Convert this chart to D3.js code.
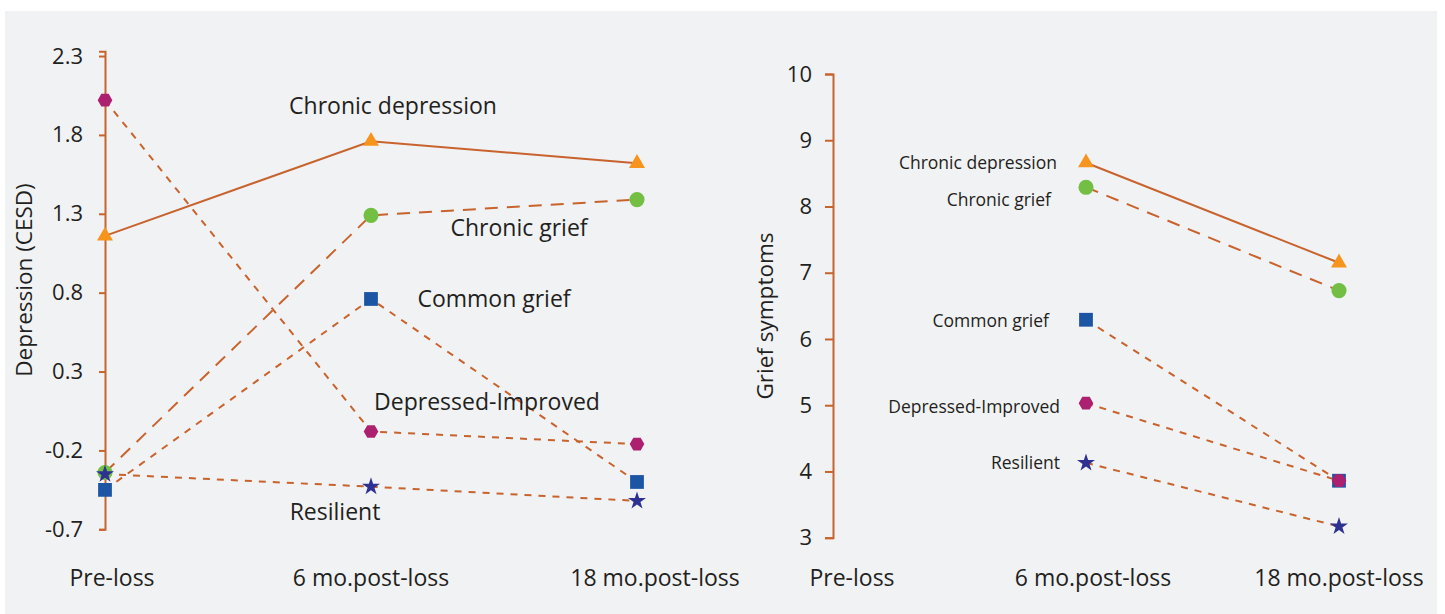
<!DOCTYPE html>
<html lang="en">
<head>
<meta charset="utf-8">
<title>Depression and grief trajectories</title>
<script src="https://d3js.org/d3.v7.min.js"></script>
<style>
  body { margin: 0; background: #ffffff; }
  svg { display: block; }
  text { font-family: "Open Sans", "DejaVu Sans", sans-serif; fill: #231f20; }
  .axis path, .axis line { stroke: #c8632d; stroke-width: 2; }
  .axis text { font-size: 22px; fill: #231f20; }
</style>
</head>
<body>
<div id="chart"></div>
<script>
const width = 1445;
const height = 614;

// data
const timepoints = ["Pre-loss", "6 mo.post-loss", "18 mo.post-loss"];
const groups = ["Chronic depression", "Chronic grief", "Common grief", "Depressed-Improved", "Resilient"];

// depression (CESD) per group, one value per timepoint
const depChronicDepression = [1.16, 1.76, 1.62];
const depChronicGrief = [-0.34, 1.29, 1.39];
const depCommonGrief = [-0.45, 0.76, -0.40];
const depDepressedImproved = [2.02, -0.08, -0.16];
const depResilient = [-0.35, -0.43, -0.52];

// grief symptoms per group (not measured pre-loss)
const griefChronicDepression = [null, 8.66, 7.15];
const griefChronicGrief = [null, 8.29, 6.73];
const griefCommonGrief = [null, 6.29, 3.86];
const griefDepressedImproved = [null, 5.03, 3.86];
const griefResilient = [null, 4.13, 3.17];

const depTicks = [-0.7, -0.2, 0.3, 0.8, 1.3, 1.8, 2.3];
const griefTicks = [3, 4, 5, 6, 7, 8, 9, 10];

const depSeries = [depChronicDepression, depChronicGrief, depCommonGrief, depDepressedImproved, depResilient];
const griefSeries = [griefChronicDepression, griefChronicGrief, griefCommonGrief, griefDepressedImproved, griefResilient];

// styling per group
const lineColor = "#c8632d";
const dashes = [null, "13,9", "7,7", "7,7", "7,7"];
const markColors = ["#f7941d", "#72bf44", "#1b55a3", "#ab216f", "#2e3192"];

const hexagon = {
  draw(context, size) {
    const r = Math.sqrt(size / (1.5 * Math.sqrt(3)));
    for (let i = 0; i < 6; i++) {
      const a = i * Math.PI / 3;
      if (i === 0) context.moveTo(r * Math.cos(a), r * Math.sin(a));
      else context.lineTo(r * Math.cos(a), r * Math.sin(a));
    }
    context.closePath();
  }
};
const symbols = [
  d3.symbol(d3.symbolTriangle, 110),
  d3.symbol(d3.symbolCircle, 180),
  d3.symbol(d3.symbolSquare, 190),
  d3.symbol(hexagon, 140),
  d3.symbol(d3.symbolStar, 100)
];

const svg = d3.select("#chart")
  .append("svg")
  .attr("width", width)
  .attr("height", height);

// grey panel
svg.append("rect")
  .attr("x", 5).attr("y", 11)
  .attr("width", 1432).attr("height", height - 11)
  .attr("fill", "#f1f2f4");

function drawPanel(cfg) {
  const x = d3.scalePoint().domain(timepoints).range(cfg.xRange);
  const y = d3.scaleLinear().domain(cfg.yDomain).range(cfg.yRange);
  const g = svg.append("g");

  // y axis
  g.append("g")
    .attr("class", "axis")
    .attr("transform", `translate(${cfg.xRange[0]},0)`)
    .call(d3.axisLeft(y)
      .tickValues(cfg.ticks)
      .tickFormat(cfg.format)
      .tickSize(cfg.tickSize)
      .tickSizeOuter(cfg.tickSize)
      .tickPadding(cfg.tickPadding));

  // axis title
  g.append("text")
    .attr("transform", `translate(${cfg.titleX},${cfg.titleY}) rotate(-90)`)
    .attr("text-anchor", "middle")
    .attr("dy", "0.35em")
    .style("font-size", "22.5px")
    .text(cfg.title);

  // timepoint labels
  g.selectAll(".xlab")
    .data(timepoints)
    .join("text")
    .attr("class", "xlab")
    .attr("x", (d, i) => x(d) + cfg.xLabelShift[i])
    .attr("y", 578)
    .attr("dy", "0.35em")
    .attr("text-anchor", "middle")
    .style("font-size", "23px")
    .text(d => d);

  const line = d3.line()
    .defined(d => d != null)
    .x((d, i) => x(timepoints[i]))
    .y(d => y(d));

  // trajectories
  g.selectAll(".traj")
    .data(cfg.series)
    .join("path")
    .attr("class", "traj")
    .attr("fill", "none")
    .attr("stroke", lineColor)
    .attr("stroke-width", 2)
    .attr("stroke-dasharray", (d, i) => dashes[i])
    .attr("d", d => line(d));

  // markers
  cfg.series.forEach((vals, gi) => {
    g.selectAll(null)
      .data(vals.map((v, i) => ({ v, t: timepoints[i] })).filter(d => d.v != null))
      .join("path")
      .attr("transform", d => `translate(${x(d.t)},${y(d.v)})`)
      .attr("fill", markColors[gi])
      .attr("d", symbols[gi]());
  });

  // group labels, placed next to the 6-month point
  g.selectAll(".glab")
    .data(groups)
    .join("text")
    .attr("class", "glab")
    .attr("x", (d, i) => x(timepoints[1]) + cfg.labelOffsets[i][0])
    .attr("y", (d, i) => y(cfg.series[i][1]) + cfg.labelOffsets[i][1])
    .attr("dy", "0.35em")
    .attr("text-anchor", cfg.labelAnchor)
    .style("font-size", cfg.labelSize)
    .text(d => d);
}

drawPanel({
  series: depSeries,
  xRange: [105, 637],
  yDomain: [-0.7, 2.33],
  yRange: [529.3, 51.3],
  ticks: depTicks,
  format: d => d.toFixed(1),
  tickSize: 6,
  tickPadding: 16,
  title: "Depression (CESD)",
  titleX: 24, titleY: 280,
  xLabelShift: [7, 0, 18],
  labelAnchor: "middle",
  labelSize: "23px",
  labelOffsets: [[22, -35], [148, 13], [123, 0], [116, -30], [-36, 25]]
});

drawPanel({
  series: griefSeries,
  xRange: [833, 1339],
  yDomain: [3, 10],
  yRange: [537.7, 74],
  ticks: griefTicks,
  format: d3.format("d"),
  tickSize: 8,
  tickPadding: 13,
  title: "Grief symptoms",
  titleX: 765, titleY: 316,
  xLabelShift: [19, 7, 0],
  labelAnchor: "end",
  labelSize: "17.5px",
  labelOffsets: [[-29, 0], [-35, 13], [-37, 1], [-26, 4], [-26, 0]]
});
</script>
</body>
</html>
